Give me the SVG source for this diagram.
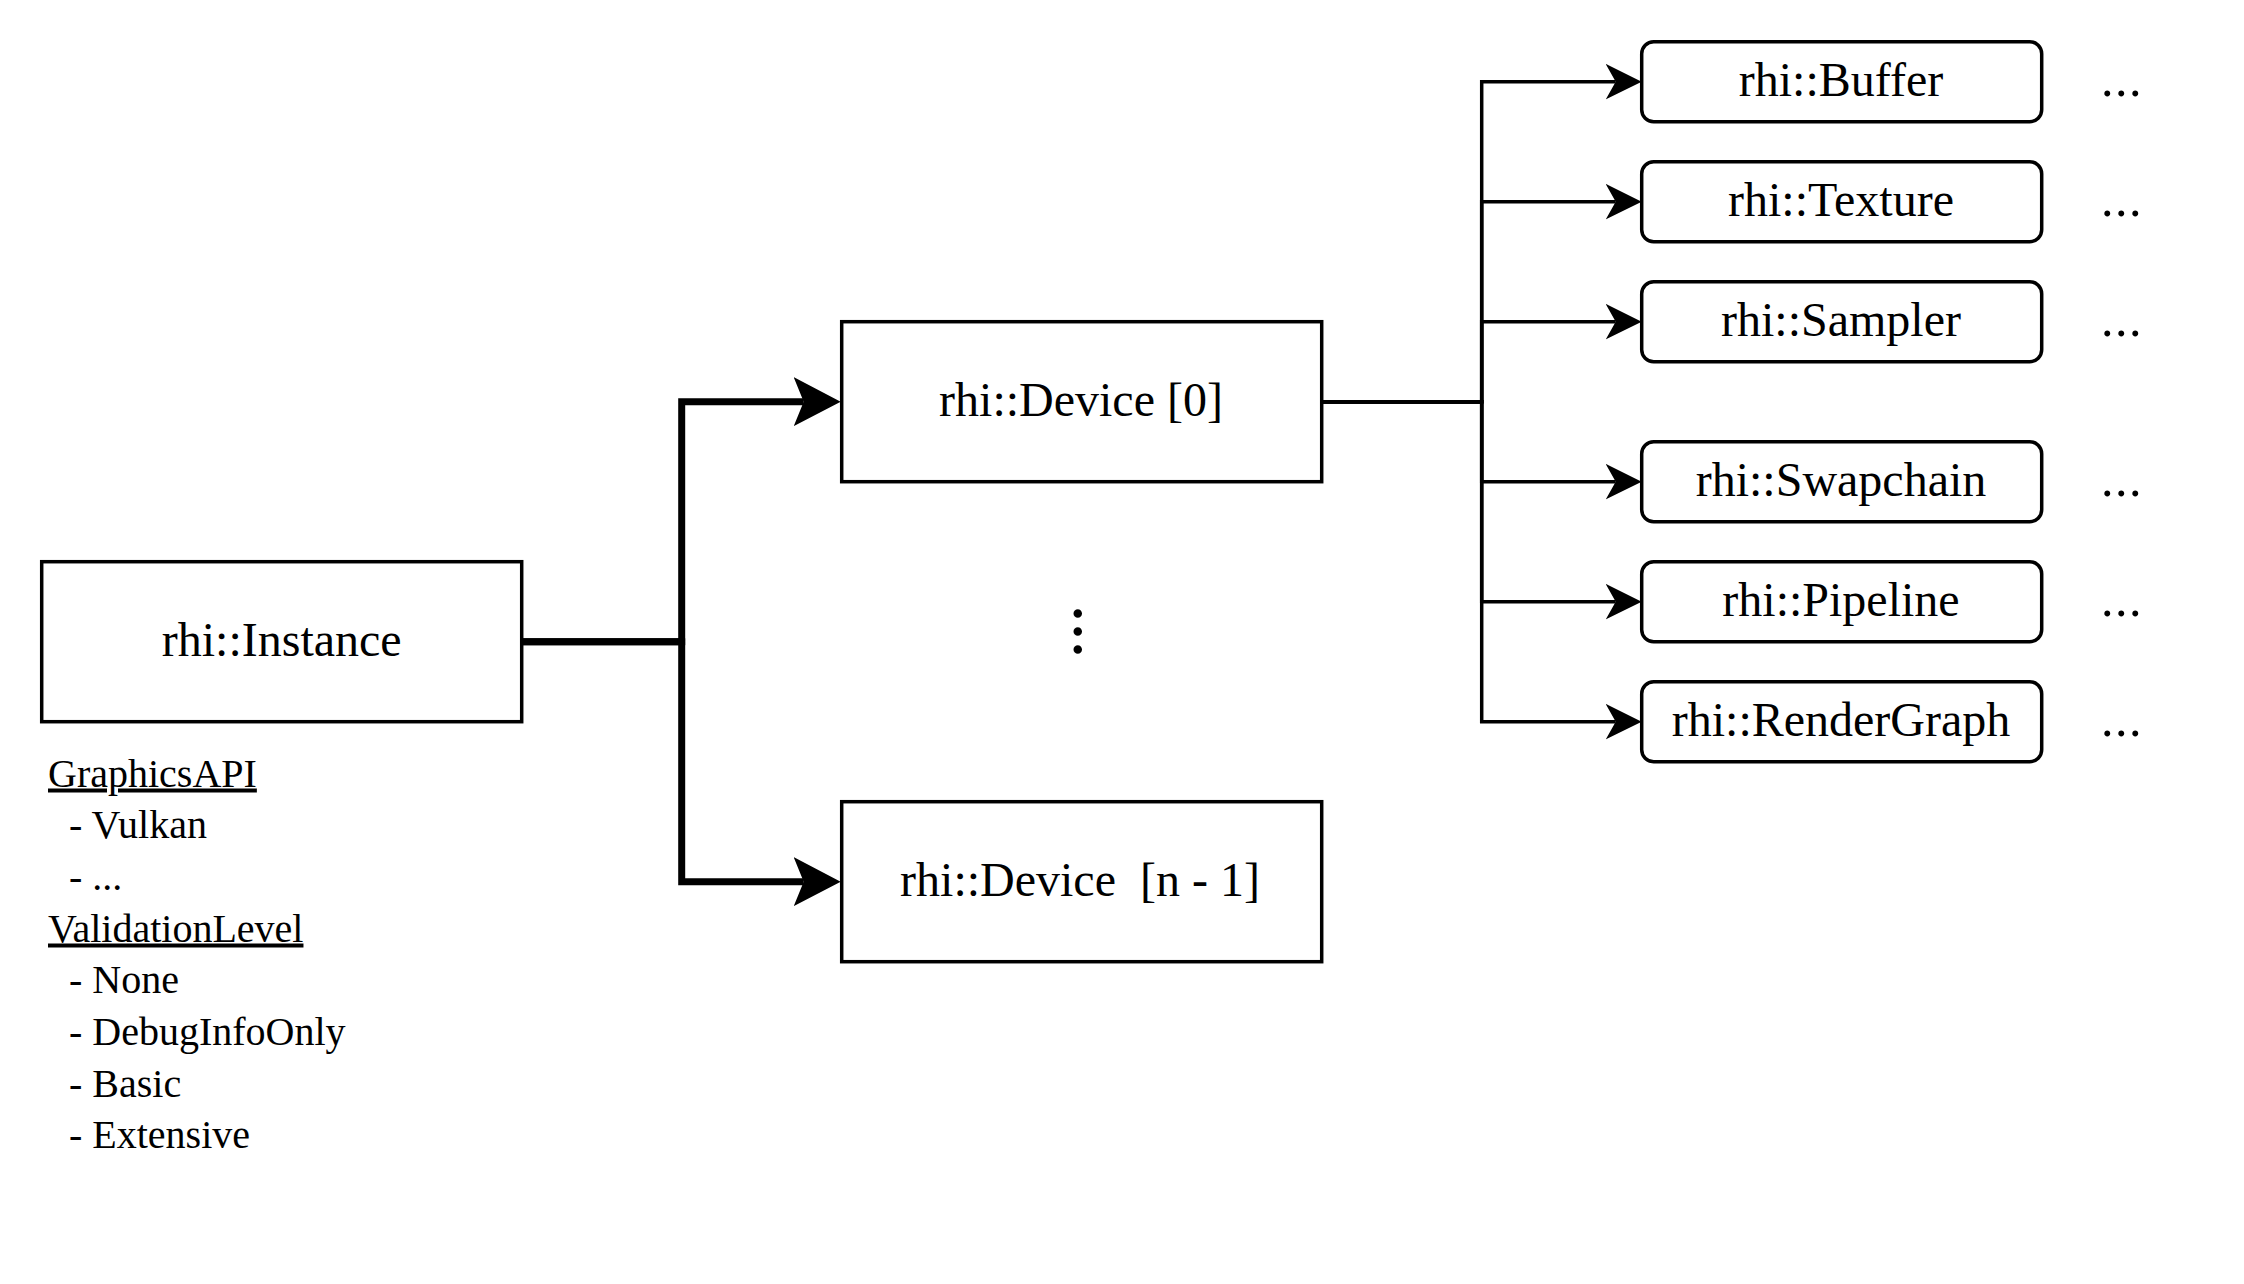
<svg xmlns="http://www.w3.org/2000/svg" width="2244" height="1284" viewBox="0 0 2244 1284">
  <style>
    .box { fill: #ffffff; stroke: #000000; stroke-width: 3.5; }
    .lbl { font-family: "Liberation Serif", "Times New Roman", serif; font-size: 48px; fill: #000000; text-anchor: middle; white-space: pre; }
    .more { font-family: "Liberation Serif", "Times New Roman", serif; font-size: 50px; fill: #000000; letter-spacing: 1.5px; }
    .note { font-family: "Liberation Serif", "Times New Roman", serif; font-size: 40px; fill: #000000; white-space: pre; }
    .head { text-decoration: underline; }
    .thick { fill: none; stroke: #000000; stroke-width: 7; }
    .thin { fill: none; stroke: #000000; stroke-width: 3.5; }
  </style>
  <defs>
    <marker id="arrow-big" markerUnits="userSpaceOnUse" markerWidth="48" markerHeight="50" refX="10" refY="24.5" orient="auto">
      <path d="M0,0 L47,24.5 L0,49 L10,24.5 Z" fill="#000000"/>
    </marker>
    <marker id="arrow-small" markerUnits="userSpaceOnUse" markerWidth="37" markerHeight="36" refX="10" refY="17.75" orient="auto">
      <path d="M0,0 L36,17.75 L0,35.5 L10,17.75 Z" fill="#000000"/>
    </marker>
  </defs>
  <rect width="2244" height="1284" fill="#ffffff"/>

  <!-- connectors -->
  <g id="connectors">
    <path class="thick" d="M522,641.7 H681.7 V401.7 H803.7" marker-end="url(#arrow-big)"/>
    <path class="thick" d="M522,641.7 H681.7 V881.7 H803.7" marker-end="url(#arrow-big)"/>
    <path class="thin" d="M1321.7,401.7 H1481.7 V81.7 H1615.7" marker-end="url(#arrow-small)"/>
    <path class="thin" d="M1321.7,401.7 H1481.7 V201.7 H1615.7" marker-end="url(#arrow-small)"/>
    <path class="thin" d="M1321.7,401.7 H1481.7 V321.7 H1615.7" marker-end="url(#arrow-small)"/>
    <path class="thin" d="M1321.7,401.7 H1481.7 V481.7 H1615.7" marker-end="url(#arrow-small)"/>
    <path class="thin" d="M1321.7,401.7 H1481.7 V601.7 H1615.7" marker-end="url(#arrow-small)"/>
    <path class="thin" d="M1321.7,401.7 H1481.7 V721.7 H1615.7" marker-end="url(#arrow-small)"/>
  </g>

  <!-- instance -->
  <g id="instance">
    <rect class="box" x="41.7" y="561.7" width="480" height="160"/>
    <text class="lbl" x="281.7" y="655.5">rhi::Instance</text>
  </g>

  <!-- instance options -->
  <g id="instance-options">
    <text class="note head" x="48" y="786.5">GraphicsAPI</text>
    <text class="note" x="69" y="838">- Vulkan</text>
    <text class="note" x="69" y="890">- ...</text>
    <text class="note head" x="48" y="941.5">ValidationLevel</text>
    <text class="note" x="69" y="993">- None</text>
    <text class="note" x="69" y="1045">- DebugInfoOnly</text>
    <text class="note" x="69" y="1096.5">- Basic</text>
    <text class="note" x="69" y="1148">- Extensive</text>
  </g>

  <!-- devices -->
  <g id="device-0">
    <rect class="box" x="841.7" y="321.7" width="480" height="160"/>
    <text class="lbl" x="1081" y="415.5">rhi::Device [0]</text>
  </g>
  <g id="device-more">
    <text class="lbl" style="font-size:72px" x="1073.5" y="631.5" transform="rotate(90 1073.5 631.5)">...</text>
  </g>
  <g id="device-last">
    <rect class="box" x="841.7" y="801.7" width="480" height="160"/>
    <text class="lbl" x="1080" y="895.5">rhi::Device  [n - 1]</text>
  </g>

  <!-- device resources -->
  <g id="buffer">
    <rect class="box" x="1641.7" y="41.7" width="400" height="80" rx="12"/>
    <text class="lbl" x="1841" y="95.5">rhi::Buffer</text>
    <text class="more" x="2101" y="96">...</text>
  </g>
  <g id="texture">
    <rect class="box" x="1641.7" y="161.7" width="400" height="80" rx="12"/>
    <text class="lbl" x="1841" y="215.5">rhi::Texture</text>
    <text class="more" x="2101" y="216">...</text>
  </g>
  <g id="sampler">
    <rect class="box" x="1641.7" y="281.7" width="400" height="80" rx="12"/>
    <text class="lbl" x="1841" y="335.5">rhi::Sampler</text>
    <text class="more" x="2101" y="336">...</text>
  </g>
  <g id="swapchain">
    <rect class="box" x="1641.7" y="441.7" width="400" height="80" rx="12"/>
    <text class="lbl" x="1841" y="495.5">rhi::Swapchain</text>
    <text class="more" x="2101" y="496">...</text>
  </g>
  <g id="pipeline">
    <rect class="box" x="1641.7" y="561.7" width="400" height="80" rx="12"/>
    <text class="lbl" x="1841" y="615.5">rhi::Pipeline</text>
    <text class="more" x="2101" y="616">...</text>
  </g>
  <g id="render-graph">
    <rect class="box" x="1641.7" y="681.7" width="400" height="80" rx="12"/>
    <text class="lbl" x="1841" y="735.5">rhi::RenderGraph</text>
    <text class="more" x="2101" y="736">...</text>
  </g>
</svg>
